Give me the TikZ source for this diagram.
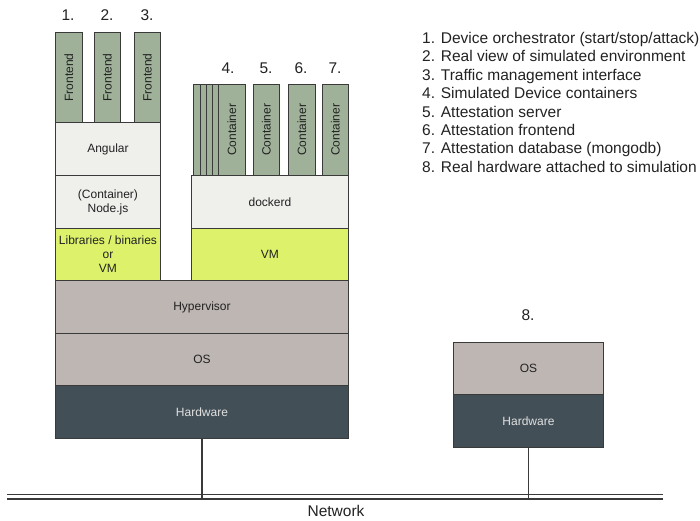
\documentclass[tikz,border=0pt]{standalone}
\usepackage{fontspec}
\setmainfont{Liberation Sans}
\definecolor{cgreen}{HTML}{9FB199}
\definecolor{clight}{HTML}{EFEFEC}
\definecolor{cyellow}{HTML}{DDF26A}
\definecolor{ctaupe}{HTML}{BEB6B3}
\definecolor{cdark}{HTML}{434F57}
\definecolor{cborder}{HTML}{3A3A3A}
\definecolor{ctext}{HTML}{222222}
\newcommand\bx[7]{\node[box,#6,minimum width={#4-#2},minimum height={#5-#3},anchor=north west] (#1) at (#2,#3) {#7};}
\begin{document}
\begin{tikzpicture}[x=1pt,y=-1pt,
  box/.style={draw=cborder,line width=0.9pt,inner sep=0pt,text=ctext,font=\fontsize{12}{14}\selectfont,align=center},
  green/.style={fill=cgreen},
  light/.style={fill=clight},
  yell/.style={fill=cyellow},
  taupe/.style={fill=ctaupe},
  dark/.style={fill=cdark,text=white!88!black},
  vlabel/.style={rotate=90,text=ctext,font=\fontsize{12}{14}\selectfont,inner sep=0pt},
  num/.style={text=ctext,font=\fontsize{15.5}{18}\selectfont,inner sep=0pt},
  legend/.style={text=ctext,font=\fontsize{15.5}{18}\selectfont,inner sep=0pt,anchor=base west},
  wire/.style={draw=cborder,line width=1.3pt}
]
\useasboundingbox (0,0) rectangle (700,520);

% left stack top
\bx{f1}{55}{32}{82}{122}{green}{}
\bx{f2}{94}{32}{120}{122}{green}{}
\bx{f3}{134}{32}{160}{122}{green}{}
\node[vlabel] at (f1.center) {Frontend};
\node[vlabel] at (f2.center) {Frontend};
\node[vlabel] at (f3.center) {Frontend};
\node[num] (n1) at (68,15) {1.};
\node[num] (n2) at (107,15) {2.};
\node[num] (n3) at (147,15) {3.};

\bx{ang}{55}{122}{160}{175}{light}{Angular}
\bx{node}{55}{175}{160}{228}{light}{(Container)\\Node.js}
\bx{libs}{55}{228}{160}{280}{yell}{Libraries / binaries\\or\\VM}

% right column
\bx{c4a}{193}{84}{245}{175}{green}{}
\bx{c4b}{200}{84}{245}{175}{green}{}
\bx{c4c}{206}{84}{245}{175}{green}{}
\bx{c4d}{212}{84}{245}{175}{green}{}
\bx{c4}{218}{84}{245}{175}{green}{}
\bx{c5}{253}{84}{279}{175}{green}{}
\bx{c6}{288}{84}{315}{175}{green}{}
\bx{c7}{322}{84}{348}{175}{green}{}
\node[vlabel] at (c4.center) {Container};
\node[vlabel] at (c5.center) {Container};
\node[vlabel] at (c6.center) {Container};
\node[vlabel] at (c7.center) {Container};
\node[num] (n4) at (228,68) {4.};
\node[num] (n5) at (266,68) {5.};
\node[num] (n6) at (301,68) {6.};
\node[num] (n7) at (335,68) {7.};

\bx{dockerd}{191}{175}{348}{228}{light}{dockerd}
\bx{vm}{191}{228}{348}{280}{yell}{VM}

% base layers
\bx{hyp}{55}{280}{348}{333}{taupe}{Hypervisor}
\bx{os}{55}{333}{348}{385}{taupe}{OS}
\bx{hw}{55}{385}{348}{438}{dark}{Hardware}

% real hardware
\node[num] (n8) at (528,315) {8.};
\bx{os2}{453}{342}{603}{394}{taupe}{OS}
\bx{hw2}{453}{394}{603}{447}{dark}{Hardware}

% network
\coordinate (netL) at (7,496.6);
\coordinate (netR) at (663,496.6);
\coordinate (netB) at (0,499);
\draw[draw=cborder,line width=1.3pt,double=white,double distance=3.4pt] (netL) -- (netR);
\draw[wire] (hw.south) -- (hw.south |- netB);
\draw[wire] (hw2.south) -- (hw2.south |- netB);
\node[num] (netlabel) at (336,511) {Network};

% legend
\node[legend] (l1) at (422,43.5) {1. Device orchestrator (start/stop/attack)};
\node[legend] (l2) at (422,61.9) {2. Real view of simulated environment};
\node[legend] (l3) at (422,80.3) {3. Traffic management interface};
\node[legend] (l4) at (422,98.7) {4. Simulated Device containers};
\node[legend] (l5) at (422,117.1) {5. Attestation server};
\node[legend] (l6) at (422,135.5) {6. Attestation frontend};
\node[legend] (l7) at (422,153.9) {7. Attestation database (mongodb)};
\node[legend] (l8) at (422,172.3) {8. Real hardware attached to simulation};
\end{tikzpicture}
\end{document}
